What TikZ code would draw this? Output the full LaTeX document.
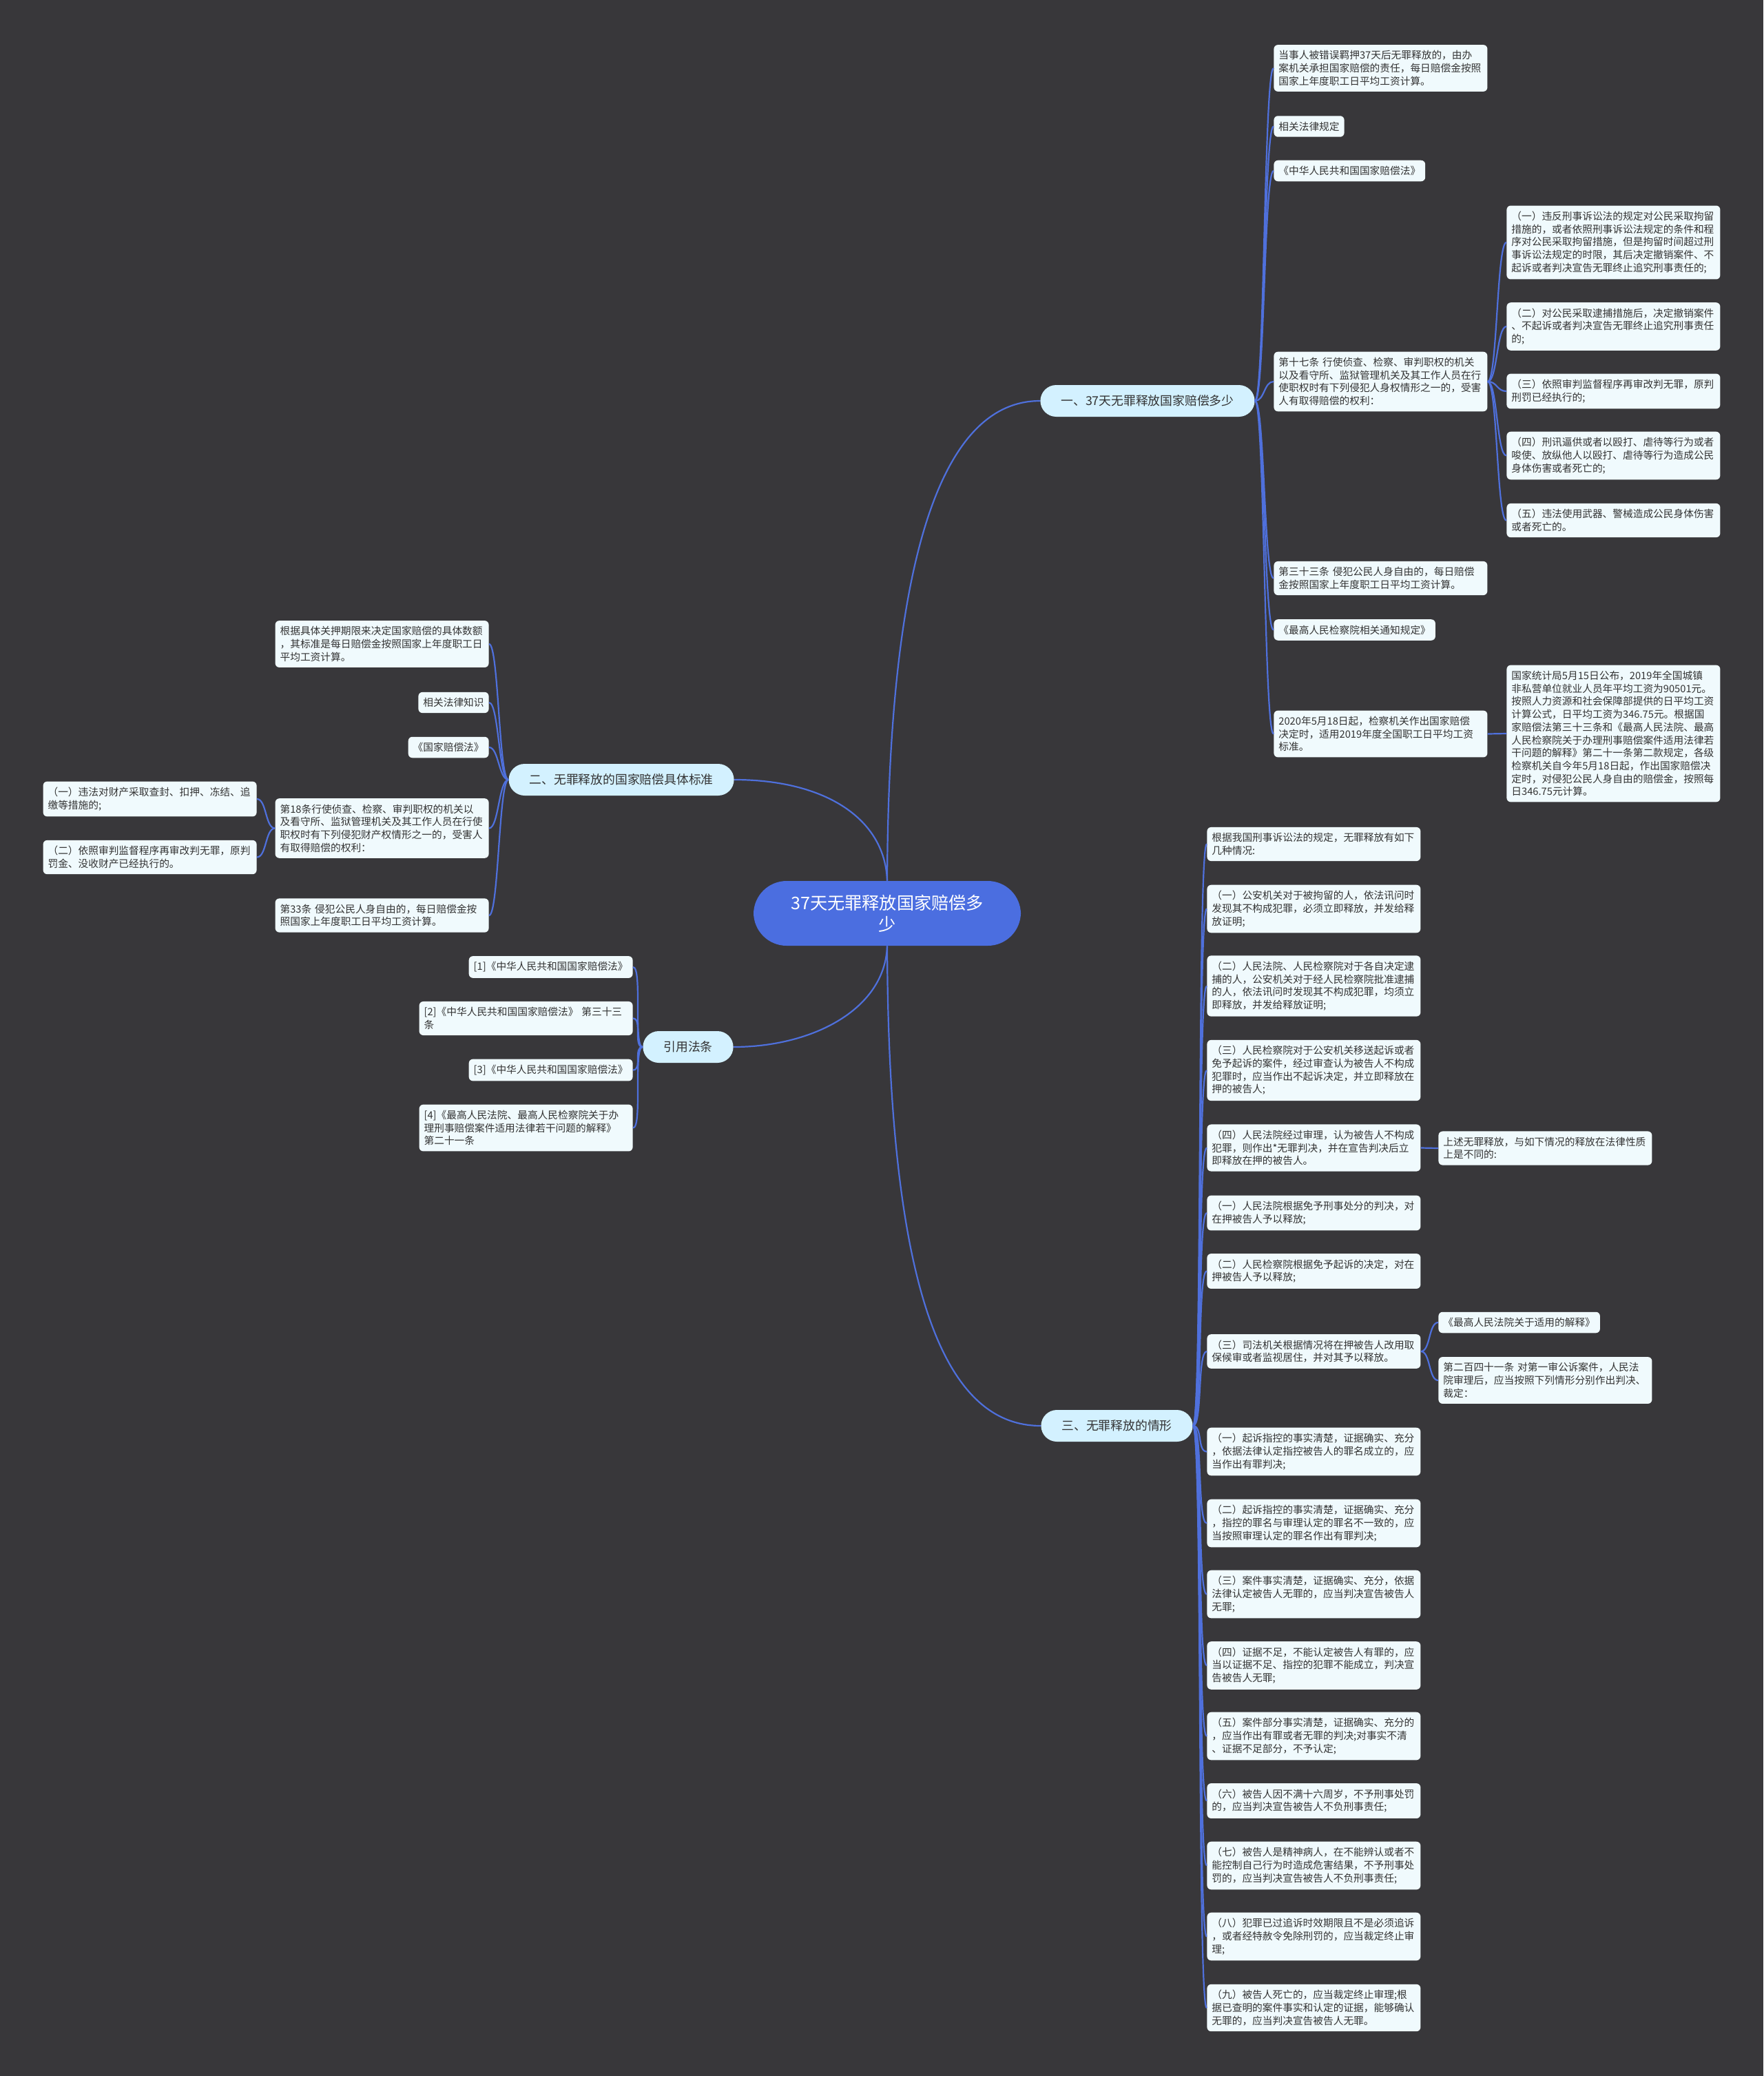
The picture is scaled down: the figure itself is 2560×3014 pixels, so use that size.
\documentclass[tikz,border=0pt]{standalone}
\usepackage{fontspec}
\setmainfont{Noto Sans CJK SC}
\hfuzz=20pt
\definecolor{bgc}{HTML}{38373A}
\definecolor{linec}{HTML}{4F70DC}
\definecolor{leafc}{HTML}{F0FAFD}
\definecolor{branchc}{HTML}{D3F1FF}
\definecolor{rootc}{HTML}{4B6EE0}
\definecolor{txtc}{HTML}{333333}
\tikzset{
 leaf/.style={fill=leafc, rounded corners=3pt, text=txtc, font=\fontsize{7.35pt}{9.35pt}\selectfont, inner xsep=3.5pt, inner ysep=4.2pt, align=left},
 wleaf/.style={leaf, text width=148pt},
 branch/.style={fill=branchc, rounded corners=11.5pt, minimum height=23pt, text=txtc, font=\fontsize{8.9pt}{10pt}\selectfont, inner xsep=15pt},
 rootnode/.style={fill=rootc, rounded corners=24pt, minimum height=47pt, minimum width=194pt, text=white, font=\fontsize{12.6pt}{15.5pt}\selectfont, align=center},
 conn/.style={draw=linec, line width=1.1pt},
}
\newcommand\rconn[2]{\draw[conn] (#1.east) .. controls +(14,0) and +(-14,0) .. (#2.west);}
\newcommand\lconn[2]{\draw[conn] (#1.west) .. controls +(-14,0) and +(14,0) .. (#2.east);}
\begin{document}
\begin{tikzpicture}[x=0.5pt,y=-0.5pt]
\fill[bgc] (0,0) rectangle (2560,3014);
\useasboundingbox (0,0) rectangle (2560,3014);

% root
\node[rootnode] (root) at (1288,1326) {37天无罪释放国家赔偿多\\少};

% branch 1
\node[branch, anchor=west] (b1) at (1510,582) {一、37天无罪释放国家赔偿多少};
\node[wleaf, anchor=west] (a1) at (1849,99) {当事人被错误羁押37天后无罪释放的，由办\\案机关承担国家赔偿的责任，每日赔偿金按照\\国家上年度职工日平均工资计算。};
\node[leaf, anchor=west] (a2) at (1849,183.5) {相关法律规定};
\node[leaf, anchor=west] (a3) at (1849,248) {《中华人民共和国国家赔偿法》};
\node[wleaf, anchor=west] (a4) at (1849,554) {第十七条~行使侦查、检察、审判职权的机关\\以及看守所、监狱管理机关及其工作人员在行\\使职权时有下列侵犯人身权情形之一的，受害\\人有取得赔偿的权利：};
\node[wleaf, anchor=west] (a5) at (1849,839.5) {第三十三条~侵犯公民人身自由的，每日赔偿\\金按照国家上年度职工日平均工资计算。};
\node[leaf, anchor=west] (a6) at (1849,914.5) {《最高人民检察院相关通知规定》};
\node[wleaf, anchor=west] (a7) at (1849,1065.5) {2020年5月18日起，检察机关作出国家赔偿\\决定时，适用2019年度全国职工日平均工资\\标准。};
\node[wleaf, anchor=west] (a4a) at (2187,352) {（一）违反刑事诉讼法的规定对公民采取拘留\\措施的，或者依照刑事诉讼法规定的条件和程\\序对公民采取拘留措施，但是拘留时间超过刑\\事诉讼法规定的时限，其后决定撤销案件、不\\起诉或者判决宣告无罪终止追究刑事责任的;};
\node[wleaf, anchor=west] (a4b) at (2187,474) {（二）对公民采取逮捕措施后，决定撤销案件\\、不起诉或者判决宣告无罪终止追究刑事责任\\的;};
\node[wleaf, anchor=west] (a4c) at (2187,568) {（三）依照审判监督程序再审改判无罪，原判\\刑罚已经执行的;};
\node[wleaf, anchor=west] (a4d) at (2187,661.5) {（四）刑讯逼供或者以殴打、虐待等行为或者\\唆使、放纵他人以殴打、虐待等行为造成公民\\身体伤害或者死亡的;};
\node[wleaf, anchor=west] (a4e) at (2187,755.5) {（五）违法使用武器、警械造成公民身体伤害\\或者死亡的。};
\node[wleaf, anchor=west] (a7a) at (2187,1065) {国家统计局5月15日公布，2019年全国城镇\\非私营单位就业人员年平均工资为90501元。\\按照人力资源和社会保障部提供的日平均工资\\计算公式，日平均工资为346.75元。根据国\\家赔偿法第三十三条和《最高人民法院、最高\\人民检察院关于办理刑事赔偿案件适用法律若\\干问题的解释》第二十一条第二款规定，各级\\检察机关自今年5月18日起，作出国家赔偿决\\定时，对侵犯公民人身自由的赔偿金，按照每\\日346.75元计算。};

% branch 2
\node[branch, anchor=east] (b2) at (1066,1132) {二、无罪释放的国家赔偿具体标准};
\node[wleaf, anchor=east] (c1) at (710,935) {根据具体关押期限来决定国家赔偿的具体数额\\，其标准是每日赔偿金按照国家上年度职工日\\平均工资计算。};
\node[leaf, anchor=east] (c2) at (710,1020) {相关法律知识};
\node[leaf, anchor=east] (c3) at (710,1085) {《国家赔偿法》};
\node[wleaf, anchor=east] (c4) at (710,1202.5) {第18条行使侦查、检察、审判职权的机关以\\及看守所、监狱管理机关及其工作人员在行使\\职权时有下列侵犯财产权情形之一的，受害人\\有取得赔偿的权利：};
\node[wleaf, anchor=east] (c5) at (710,1329) {第33条~侵犯公民人身自由的，每日赔偿金按\\照国家上年度职工日平均工资计算。};
\node[wleaf, anchor=east] (c4a) at (373,1160) {（一）违法对财产采取查封、扣押、冻结、追\\缴等措施的;};
\node[wleaf, anchor=east] (c4b) at (373,1244.5) {（二）依照审判监督程序再审改判无罪，原判\\罚金、没收财产已经执行的。};

% branch 3
\node[branch, anchor=east] (b3) at (1065,1520) {引用法条};
\node[leaf, anchor=east] (d1) at (919,1404) {[1]《中华人民共和国国家赔偿法》};
\node[wleaf, anchor=east] (d2) at (919,1478.5) {[2]《中华人民共和国国家赔偿法》~第三十三\\条};
\node[leaf, anchor=east] (d3) at (919,1553.5) {[3]《中华人民共和国国家赔偿法》};
\node[wleaf, anchor=east] (d4) at (919,1637.5) {[4]《最高人民法院、最高人民检察院关于办\\理刑事赔偿案件适用法律若干问题的解释》\\第二十一条};

% branch 4
\node[branch, anchor=west] (b4) at (1511,2070) {三、无罪释放的情形};
\node[wleaf, anchor=west] (e1) at (1752,1225.5) {根据我国刑事诉讼法的规定，无罪释放有如下\\几种情况:};
\node[wleaf, anchor=west] (e2) at (1752,1319.5) {（一）公安机关对于被拘留的人，依法讯问时\\发现其不构成犯罪，必须立即释放，并发给释\\放证明;};
\node[wleaf, anchor=west] (e3) at (1752,1431.5) {（二）人民法院、人民检察院对于各自决定逮\\捕的人，公安机关对于经人民检察院批准逮捕\\的人，依法讯问时发现其不构成犯罪，均须立\\即释放，并发给释放证明;};
\node[wleaf, anchor=west] (e4) at (1752,1554) {（三）人民检察院对于公安机关移送起诉或者\\免予起诉的案件，经过审查认为被告人不构成\\犯罪时，应当作出不起诉决定，并立即释放在\\押的被告人;};
\node[wleaf, anchor=west] (e5) at (1752,1666.5) {（四）人民法院经过审理，认为被告人不构成\\犯罪，则作出*无罪判决，并在宣告判决后立\\即释放在押的被告人。};
\node[wleaf, anchor=west] (e6) at (1752,1761) {（一）人民法院根据免予刑事处分的判决，对\\在押被告人予以释放;};
\node[wleaf, anchor=west] (e7) at (1752,1845.5) {（二）人民检察院根据免予起诉的决定，对在\\押被告人予以释放;};
\node[wleaf, anchor=west] (e8) at (1752,1962) {（三）司法机关根据情况将在押被告人改用取\\保候审或者监视居住，并对其予以释放。};
\node[wleaf, anchor=west] (e9) at (1752,2107.5) {（一）起诉指控的事实清楚，证据确实、充分\\，依据法律认定指控被告人的罪名成立的，应\\当作出有罪判决;};
\node[wleaf, anchor=west] (e10) at (1752,2211.5) {（二）起诉指控的事实清楚，证据确实、充分\\，指控的罪名与审理认定的罪名不一致的，应\\当按照审理认定的罪名作出有罪判决;};
\node[wleaf, anchor=west] (e11) at (1752,2314.5) {（三）案件事实清楚，证据确实、充分，依据\\法律认定被告人无罪的，应当判决宣告被告人\\无罪;};
\node[wleaf, anchor=west] (e12) at (1752,2418) {（四）证据不足，不能认定被告人有罪的，应\\当以证据不足、指控的犯罪不能成立，判决宣\\告被告人无罪;};
\node[wleaf, anchor=west] (e13) at (1752,2520.5) {（五）案件部分事实清楚，证据确实、充分的\\，应当作出有罪或者无罪的判决;对事实不清\\、证据不足部分，不予认定;};
\node[wleaf, anchor=west] (e14) at (1752,2614.5) {（六）被告人因不满十六周岁，不予刑事处罚\\的，应当判决宣告被告人不负刑事责任;};
\node[wleaf, anchor=west] (e15) at (1752,2708.5) {（七）被告人是精神病人，在不能辨认或者不\\能控制自己行为时造成危害结果，不予刑事处\\罚的，应当判决宣告被告人不负刑事责任;};
\node[wleaf, anchor=west] (e16) at (1752,2811.5) {（八）犯罪已过追诉时效期限且不是必须追诉\\，或者经特赦令免除刑罚的，应当裁定终止审\\理;};
\node[wleaf, anchor=west] (e17) at (1752,2915) {（九）被告人死亡的，应当裁定终止审理;根\\据已查明的案件事实和认定的证据，能够确认\\无罪的，应当判决宣告被告人无罪。};
\node[wleaf, anchor=west] (e5a) at (2088,1667) {上述无罪释放，与如下情况的释放在法律性质\\上是不同的:};
\node[leaf, anchor=west] (e8a) at (2088,1920) {《最高人民法院关于适用的解释》};
\node[wleaf, anchor=west] (e8b) at (2088,2004) {第二百四十一条~对第一审公诉案件，人民法\\院审理后，应当按照下列情形分别作出判决、\\裁定：};

% root connectors
\draw[conn] (root.north) .. controls (1290,800) and (1370,582) .. (b1.west);
\draw[conn] (root.north) .. controls (1285,1190) and (1200,1132) .. (b2.east);
\draw[conn] (root.south) .. controls (1285,1465) and (1180,1520) .. (b3.east);
\draw[conn] (root.south) .. controls (1290,1900) and (1380,2070) .. (b4.west);

% branch 1 connectors
\foreach \c in {a1,a2,a3,a4,a5,a6,a7} {\rconn{b1}{\c}}
\foreach \c in {a4a,a4b,a4c,a4d,a4e} {\rconn{a4}{\c}}
\draw[conn] (a7.east) -- (a7a.west);

% branch 2 connectors
\foreach \c in {c1,c2,c3,c4,c5} {\lconn{b2}{\c}}
\foreach \c in {c4a,c4b} {\lconn{c4}{\c}}

% branch 3 connectors
\foreach \c in {d1,d2,d3,d4} {\lconn{b3}{\c}}

% branch 4 connectors
\foreach \c in {e1,e2,e3,e4,e5,e6,e7,e8,e9,e10,e11,e12,e13,e14,e15,e16,e17} {\rconn{b4}{\c}}
\draw[conn] (e5.east) -- (e5a.west);
\foreach \c in {e8a,e8b} {\rconn{e8}{\c}}
\end{tikzpicture}
\end{document}
